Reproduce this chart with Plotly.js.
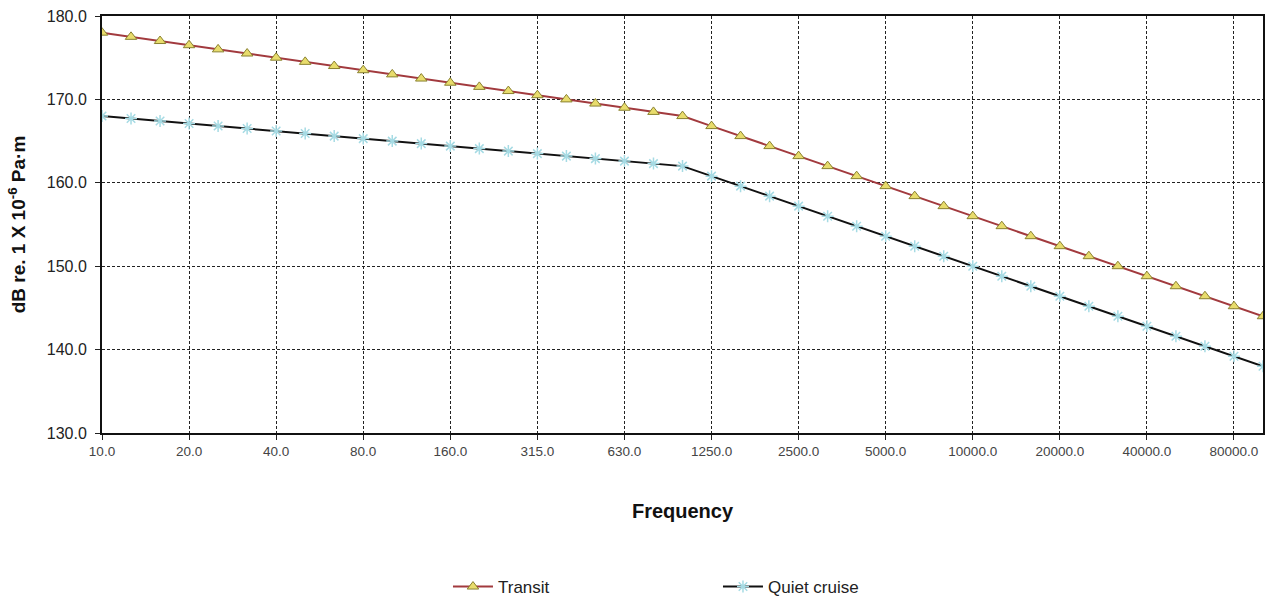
<!DOCTYPE html>
<html>
<head>
<meta charset="utf-8">
<script src="https://cdn.plot.ly/plotly-3.0.1.min.js"></script>
<style>
  html, body { margin: 0; padding: 0; background: #ffffff; }
  #chart { width: 1271px; height: 605px; }
</style>
</head>
<body>
<div id="chart"></div>
<script>
// One-third octave band centre frequencies (Hz)
const frequencies = ["10.0","12.5","16.0","20.0","25.0","31.5","40.0","50.0","63.0","80.0",
  "100.0","125.0","160.0","200.0","250.0","315.0","400.0","500.0","630.0","800.0",
  "1000.0","1250.0","1600.0","2000.0","2500.0","3150.0","4000.0","5000.0","6300.0","8000.0",
  "10000.0","12500.0","16000.0","20000.0","25000.0","31500.0","40000.0","50000.0","63000.0","80000.0",
  "100000.0"];

// Source level, dB re. 1 µPa·m
const transit = [178.0,177.5,177.0,176.5,176.0,175.5,175.0,174.5,174.0,173.5,
  173.0,172.5,172.0,171.5,171.0,170.5,170.0,169.5,169.0,168.5,
  168.0,166.8,165.6,164.4,163.2,162.0,160.8,159.6,158.4,157.2,
  156.0,154.8,153.6,152.4,151.2,150.0,148.8,147.6,146.4,145.2,
  144.0];

const quietCruise = [168.0,167.7,167.4,167.1,166.8,166.5,166.2,165.9,165.6,165.3,
  165.0,164.7,164.4,164.1,163.8,163.5,163.2,162.9,162.6,162.3,
  162.0,160.8,159.6,158.4,157.2,156.0,154.8,153.6,152.4,151.2,
  150.0,148.8,147.6,146.4,145.2,144.0,142.8,141.6,140.4,139.2,
  138.0];

const xTickLabels = ["10.0","20.0","40.0","80.0","160.0","315.0","630.0","1250.0",
  "2500.0","5000.0","10000.0","20000.0","40000.0","80000.0"];
const yTicks = [130,140,150,160,170,180];

const traces = [
  {
    name: "Transit",
    x: frequencies,
    y: transit,
    type: "scatter",
    mode: "lines+markers",
    line: { color: "#a23a3e", width: 2 },
    marker: { symbol: "triangle-up", size: 10, color: "#e8dc6c",
              line: { color: "#8a8230", width: 1 } }
  },
  {
    name: "Quiet cruise",
    x: frequencies,
    y: quietCruise,
    type: "scatter",
    mode: "lines+markers",
    line: { color: "#111111", width: 2 },
    marker: { symbol: "asterisk-open", size: 10, color: "#a6dbe4",
              line: { color: "#a6dbe4", width: 1.5 } }
  }
];

const gridStyle = { gridcolor: "#222222", gridwidth: 1, griddash: "3px,2px" };

const layout = {
  width: 1271,
  height: 605,
  paper_bgcolor: "#ffffff",
  plot_bgcolor: "#ffffff",
  margin: { l: 102, r: 8, t: 16, b: 172 },
  font: { family: "Liberation Sans, Arial, sans-serif", color: "#222222" },
  showlegend: true,
  legend: {
    orientation: "h",
    x: 0.298, xanchor: "left",
    yref: "container",
    y: -0.01, yanchor: "bottom",
    font: { size: 17, color: "#222222" },
    itemwidth: 40,
    entrywidth: 215,
    entrywidthmode: "pixels",
    bgcolor: "rgba(0,0,0,0)"
  },
  xaxis: Object.assign({
    type: "category",
    range: [0, frequencies.length - 1],
    tickmode: "array",
    tickvals: xTickLabels,
    ticktext: xTickLabels,
    tickangle: 0,
    ticks: "outside",
    ticklen: 5,
    tickcolor: "#222222",
    tickfont: { size: 13.5, color: "#444444" },
    showline: true,
    linecolor: "#111111",
    linewidth: 2,
    mirror: true,
    zeroline: false,
    showgrid: true,
    title: { text: "Frequency", font: { size: 20, color: "#111111", weight: "bold" }, standoff: 46 }
  }, gridStyle),
  yaxis: Object.assign({
    range: [130, 180],
    tickmode: "array",
    tickvals: yTicks,
    tickformat: ".1f",
    ticks: "outside",
    ticklen: 5,
    ticklabelstandoff: 5,
    tickcolor: "#222222",
    tickfont: { size: 16, color: "#222222" },
    showline: true,
    linecolor: "#111111",
    linewidth: 2,
    mirror: true,
    zeroline: false,
    showgrid: true,
    title: { text: "dB re. 1 X 10<sup>-6</sup> Pa·m", font: { size: 19, color: "#111111", weight: "bold" }, standoff: 16 }
  }, gridStyle)
};

Plotly.newPlot("chart", traces, layout, { displayModeBar: false, staticPlot: true });
</script>
</body>
</html>
